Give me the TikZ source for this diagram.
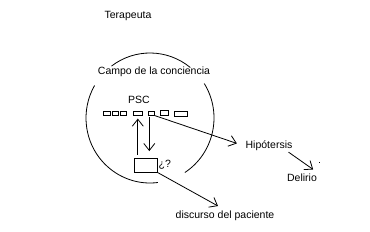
\documentclass[tikz,border=0pt]{standalone}
\usepackage{fontspec}
\setmainfont{Liberation Sans}
\usetikzlibrary{positioning,calc,arrows.meta}
\tikzset{
  txt/.style    = {font=\fontsize{10.5}{12}\selectfont, inner sep=1pt},
  celda/.style  = {draw, line width=0.8pt, inner sep=0pt},
  borde/.style  = {line width=0.8pt},
  flecha/.style = {-{Straight Barb[length=7pt,width=11pt]}, line width=0.8pt},
}

\begin{document}
\begin{tikzpicture}[x=1pt,y=-1pt]
  \useasboundingbox (0,0) rectangle (370,232);

  % ---------- labels
  \node[txt] (terapeuta) at (128,16) {Terapeuta};
  \node[txt] (campo) at (154,72) {Campo de la conciencia};
  \node[txt] (psc) at (139,100) {PSC};
  \node[txt] (hipo) at (269,146) {Hipótersis};
  \node[txt] (delirio) at (302,178) {Delirio};
  \node[txt] (discurso) at (225,216) {discurso del paciente};

  % ---------- field of consciousness (open ellipse)
  \coordinate (centro) at (150,118);
  \draw[borde] ($(centro)+(-127:64 and 65)$) arc[start angle=-127, end angle=-51, x radius=64, y radius=65];
  \draw[borde] ($(centro)+(83:64 and 65)$) arc[start angle=83, end angle=210, x radius=64, y radius=65];
  \draw[borde] ($(centro)+(-32:64 and 65)$) arc[start angle=-32, end angle=57, x radius=64, y radius=65];

  % ---------- row of cells
  \foreach \n/\x/\y/\w/\h in {%
    1/107/113.5/6.3pt/3.6pt,
    2/115.2/113.5/5.7pt/3.6pt,
    3/123.2/113.5/5.7pt/3.6pt,
    4/137.8/113.7/9pt/4pt,
    5/151.7/113.5/6pt/3.6pt,
    6/164.3/112.7/8.7pt/5.3pt,
    7/180.7/113.8/13.3pt/4.3pt}
  {
    \node[celda, minimum width=\w, minimum height=\h] (b\n) at (\x,\y) {};
  }

  % ---------- lower cell
  \node[celda, minimum width=23pt, minimum height=14pt] (caja) at (145.5,165) {};
  \node[txt, right=0pt of caja] (preg) {¿?};

  % ---------- connectors
  \draw[flecha, shorten <=3pt, shorten >=2.5pt] (caja.north -| b4.south) -- (b4.south);
  \draw[flecha, shorten <=1.5pt, shorten >=6.5pt] ([xshift=1pt]b5.south west) -- ([xshift=1pt]b5.south west |- caja.north);
  \draw[flecha, shorten >=8pt] (b5.south east) -- (hipo.west);
  \draw[flecha, shorten >=6pt] ([xshift=-5pt]hipo.south east) -- (delirio.north east);
  \draw[flecha, shorten >=8pt] (caja.south east) -- (discurso.north);
  \fill (318.5,162.5) rectangle (319.5,163.5);
\end{tikzpicture}
\end{document}
